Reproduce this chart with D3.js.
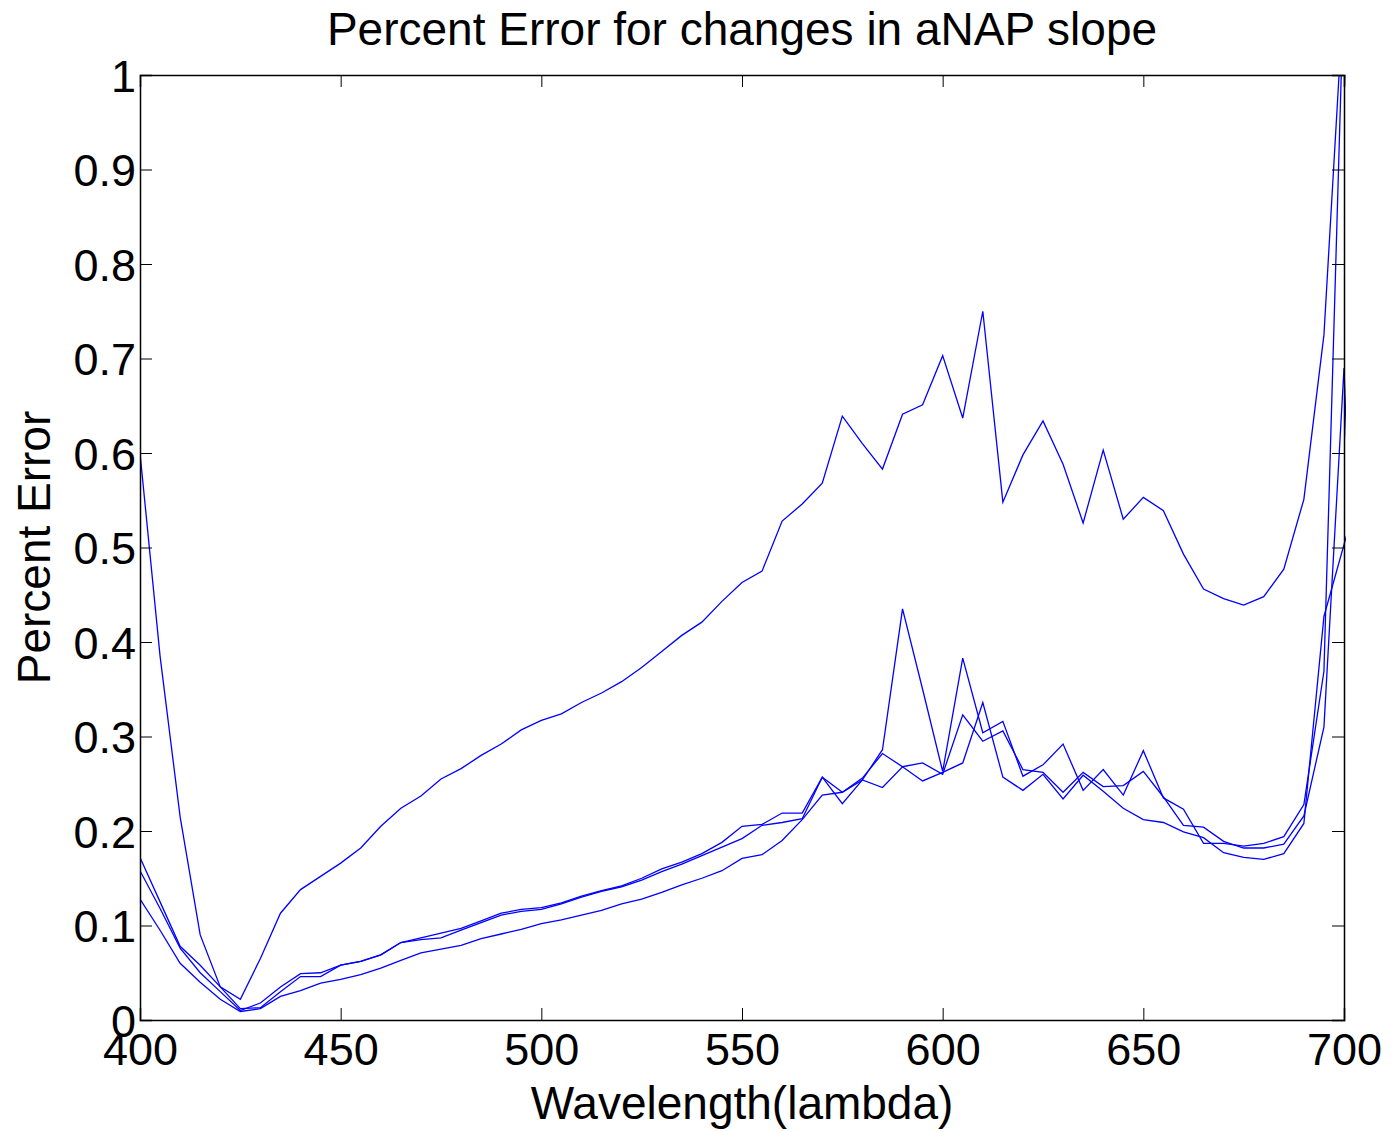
<!DOCTYPE html>
<html>
<head>
<meta charset="utf-8">
<script src="https://cdn.jsdelivr.net/npm/d3@7"></script>
<style>
  body { margin: 0; background: #fff; }
  svg { font-family: "Liberation Sans", Arial, sans-serif; }
</style>
</head>
<body>
<svg id="chart"></svg>
<script>
// wavelength grid (data runs one step past the axis limit, clipped like matlab)
const wavelengths = [400, 405, 410, 415, 420, 425, 430, 435, 440, 445, 450, 455, 460, 465, 470, 475,
    480, 485, 490, 495, 500, 505, 510, 515, 520, 525, 530, 535, 540, 545, 550, 555, 560, 565, 570,
    575, 580, 585, 590, 595, 600, 605, 610, 615, 620, 625, 630, 635, 640, 645, 650, 655, 660, 665,
    670, 675, 680, 685, 690, 695, 700, 705];

const seriesA = [0.600, 0.385, 0.215, 0.090, 0.035, 0.022, 0.065, 0.113, 0.138, 0.152, 0.166, 0.182,
    0.205, 0.224, 0.237, 0.255, 0.266, 0.280, 0.292, 0.307, 0.317, 0.324, 0.336, 0.346, 0.358, 0.373,
    0.390, 0.407, 0.421, 0.443, 0.463, 0.475, 0.528, 0.546, 0.568, 0.639, 0.610, 0.583, 0.641, 0.651,
    0.703, 0.637, 0.750, 0.548, 0.598, 0.634, 0.588, 0.526, 0.603, 0.530, 0.553, 0.539, 0.493, 0.456,
    0.446, 0.439, 0.448, 0.477, 0.551, 0.725, 1.090, 0.300];

const seriesB = [0.172, 0.125, 0.078, 0.058, 0.035, 0.012, 0.013, 0.030, 0.046, 0.046, 0.058, 0.062,
    0.069, 0.082, 0.085, 0.087, 0.095, 0.103, 0.111, 0.115, 0.117, 0.123, 0.130, 0.136, 0.141, 0.148,
    0.157, 0.165, 0.174, 0.183, 0.192, 0.206, 0.209, 0.213, 0.257, 0.229, 0.254, 0.286, 0.435, 0.350,
    0.263, 0.383, 0.304, 0.316, 0.258, 0.270, 0.292, 0.243, 0.265, 0.238, 0.285, 0.235, 0.223, 0.187,
    0.187, 0.184, 0.187, 0.194, 0.228, 0.369, 1.100, 0.300];

const seriesC = [0.158, 0.118, 0.076, 0.050, 0.030, 0.010, 0.018, 0.035, 0.049, 0.050, 0.058, 0.062,
    0.069, 0.082, 0.087, 0.092, 0.097, 0.105, 0.113, 0.117, 0.119, 0.124, 0.131, 0.137, 0.142, 0.150,
    0.160, 0.167, 0.176, 0.188, 0.205, 0.207, 0.219, 0.219, 0.257, 0.241, 0.256, 0.282, 0.268, 0.272,
    0.260, 0.323, 0.295, 0.306, 0.265, 0.262, 0.241, 0.262, 0.247, 0.248, 0.263, 0.236, 0.206, 0.204,
    0.189, 0.182, 0.182, 0.186, 0.216, 0.310, 0.690, 0.100];

const seriesD = [0.128, 0.095, 0.060, 0.040, 0.022, 0.009, 0.012, 0.025, 0.031, 0.039, 0.043, 0.048,
    0.055, 0.063, 0.071, 0.075, 0.079, 0.086, 0.091, 0.096, 0.102, 0.106, 0.111, 0.116, 0.123, 0.128,
    0.135, 0.143, 0.150, 0.158, 0.171, 0.175, 0.190, 0.212, 0.238, 0.241, 0.254, 0.246, 0.268, 0.253,
    0.262, 0.272, 0.336, 0.257, 0.243, 0.260, 0.234, 0.259, 0.242, 0.224, 0.212, 0.209, 0.199, 0.193,
    0.177, 0.172, 0.170, 0.176, 0.208, 0.427, 0.503, 0.580];

const allSeries = [seriesA, seriesB, seriesC, seriesD];

const xTicks = [400, 450, 500, 550, 600, 650, 700];
const yTicks = [0, 0.1, 0.2, 0.3, 0.4, 0.5, 0.6, 0.7, 0.8, 0.9, 1];

const width = 1395, height = 1132;
const margin = { top: 75, right: 51, bottom: 112, left: 140 };

const svg = d3.select("#chart").attr("width", width).attr("height", height);
svg.append("rect").attr("width", width).attr("height", height).attr("fill", "#fff");

const x = d3.scaleLinear().domain([400, 700]).range([margin.left, width - margin.right]);
const y = d3.scaleLinear().domain([0, 1]).range([height - margin.bottom, margin.top]);

svg.append("clipPath").attr("id", "plotClip")
    .append("rect")
    .attr("x", x(400)).attr("y", y(1))
    .attr("width", x(700) - x(400) + 2).attr("height", y(0) - y(1));

const line = d3.line()
    .x((d, i) => x(wavelengths[i]))
    .y(d => y(d));

svg.append("g").attr("clip-path", "url(#plotClip)")
    .selectAll("path")
    .data(allSeries)
    .join("path")
    .attr("d", line)
    .attr("fill", "none")
    .attr("stroke", "#0000ff")
    .attr("stroke-width", 1.3)
    .attr("stroke-linejoin", "miter");

const tickLen = 12;
const fmt = d => d3.format("~g")(d);

// bottom + left with labels, top + right plain ticks (matlab box)
const gx = svg.append("g")
    .attr("transform", `translate(0,${y(0)})`)
    .call(d3.axisBottom(x).tickValues(xTicks).tickFormat(fmt).tickSize(-tickLen).tickPadding(13));
const gy = svg.append("g")
    .attr("transform", `translate(${x(400)},0)`)
    .call(d3.axisLeft(y).tickValues(yTicks).tickFormat(fmt).tickSize(-tickLen).tickPadding(4));
svg.append("g")
    .attr("transform", `translate(0,${y(1)})`)
    .call(d3.axisTop(x).tickValues(xTicks).tickFormat("").tickSize(-tickLen));
svg.append("g")
    .attr("transform", `translate(${x(700)},0)`)
    .call(d3.axisRight(y).tickValues(yTicks).tickFormat("").tickSize(-tickLen));

svg.selectAll(".domain").attr("stroke", "#000").attr("stroke-width", 1.5);
svg.selectAll(".tick line").attr("stroke", "#000").attr("stroke-width", 1);
svg.selectAll(".tick text").attr("fill", "#000").attr("font-size", 45)
    .attr("font-family", "Liberation Sans, Arial, sans-serif");
gx.selectAll(".tick text").attr("dy", "0.72em");
gy.selectAll(".tick text").attr("dy", "0.36em");

svg.append("text")
    .attr("x", (x(400) + x(700)) / 2).attr("y", 45)
    .attr("text-anchor", "middle").attr("font-size", 46)
    .text("Percent Error for changes in aNAP slope");

svg.append("text")
    .attr("x", (x(400) + x(700)) / 2).attr("y", 1119)
    .attr("text-anchor", "middle").attr("font-size", 46)
    .text("Wavelength(lambda)");

svg.append("text")
    .attr("transform", `translate(50,${(y(0) + y(1)) / 2}) rotate(-90)`)
    .attr("text-anchor", "middle").attr("font-size", 46)
    .text("Percent Error");
</script>
</body>
</html>
